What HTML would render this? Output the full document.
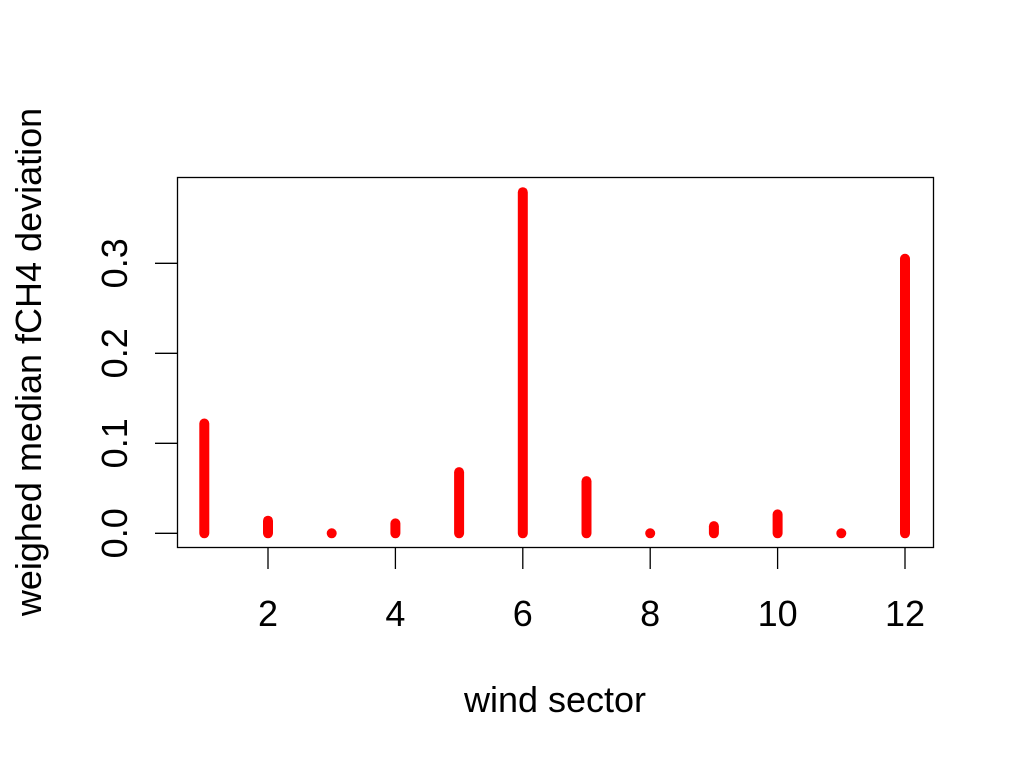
<!DOCTYPE html>
<html><head><meta charset="utf-8"><style>body{margin:0;background:#fff}svg{display:block}text{font-family:"Liberation Sans",Arial,sans-serif;font-size:36px;fill:#000}</style></head>
<body>
<svg id="chart" width="1024" height="768" viewBox="0 0 1024 768" xmlns="http://www.w3.org/2000/svg"></svg>
<script>
const sectors=[1,2,3,4,5,6,7,8,9,10,11,12];
const values=[0.122,0.014,0.0,0.011,0.068,0.379,0.058,0.0,0.008,0.021,0.0,0.305];
const xTicks=[2,4,6,8,10,12];
const yTicks=[0,0.1,0.2,0.3];
const yTickLabels=["0.0","0.1","0.2","0.3"];
const NS="http://www.w3.org/2000/svg";
const svg=document.getElementById('chart');
const X=v=>204.3+(v-1)*63.7;
const Y=v=>533.3-v*900;
function mk(t,a,p){const e=document.createElementNS(NS,t);for(const k in a)e.setAttribute(k,a[k]);(p||svg).appendChild(e);return e;}
const box=mk('rect',{x:177.5,y:177.5,width:756,height:370,fill:'none',stroke:'#000','stroke-width':1.3});


const bars=mk('g',{});


sectors.forEach((s,i)=>{
  const l=mk('line',{x1:X(s),x2:X(s),y1:Y(0),y2:Y(values[i]),stroke:'#ff0000','stroke-width':10,'stroke-linecap':'round'},bars);
  
  
});
const xa=mk('g',{});


xTicks.forEach(t=>{
  const tk=mk('line',{x1:X(t),x2:X(t),y1:547,y2:569,stroke:'#000','stroke-width':1.3},xa);
  
  
  const tx=mk('text',{x:X(t),y:626,'text-anchor':'middle'},xa);
  tx.textContent=t;
  
  
});
const ya=mk('g',{});


yTicks.forEach((t,i)=>{
  const tk=mk('line',{x1:155,x2:177,y1:Y(t),y2:Y(t),stroke:'#000','stroke-width':1.3},ya);
  
  
  const tx=mk('text',{x:0,y:0,'text-anchor':'middle',transform:`translate(127,${Y(t)}) rotate(-90)`},ya);
  tx.textContent=yTickLabels[i];
  
  
});
const xt=mk('text',{x:555,y:712,'text-anchor':'middle'});
xt.textContent='wind sector';


const yt=mk('text',{x:0,y:0,'text-anchor':'middle',transform:'translate(41,362) rotate(-90)'});
yt.textContent='weighed median fCH4 deviation';


</script>
</body></html>
